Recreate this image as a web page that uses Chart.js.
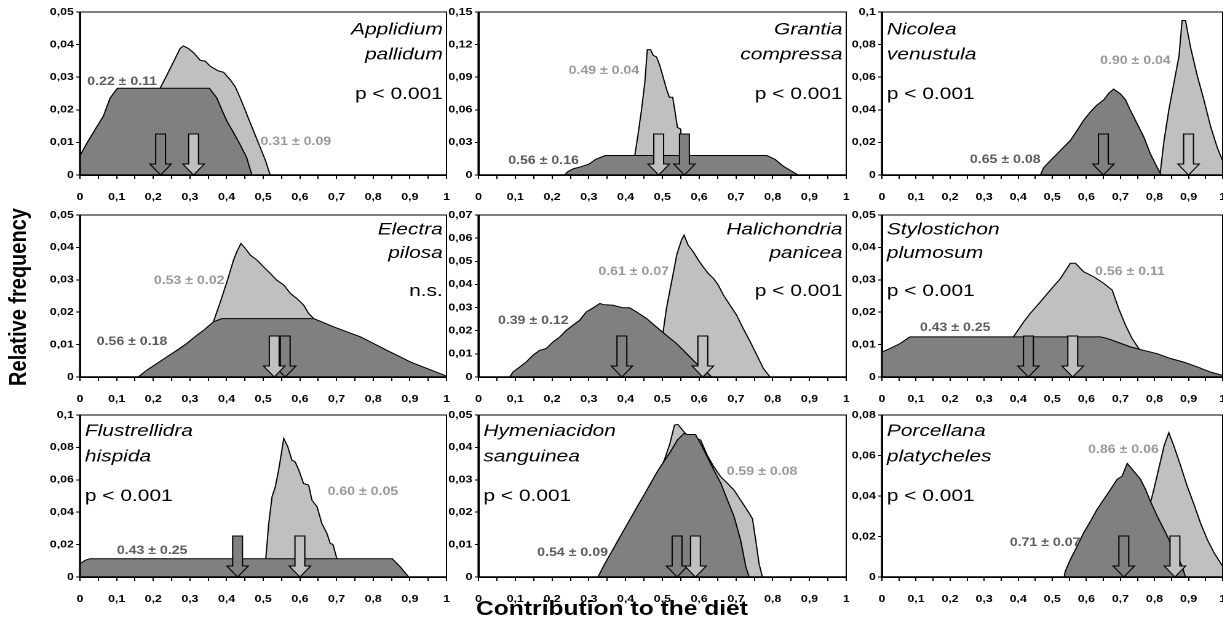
<!DOCTYPE html>
<html>
<head>
<meta charset="utf-8">
<script src="https://cdn.jsdelivr.net/npm/chart.js@4.4.1/dist/chart.umd.min.js"></script>
<style>
  html, body { margin: 0; padding: 0; background: #fff; overflow: hidden; width: 1223px; height: 641px; }
  /* the whole figure is laid out narrow and stretched sideways */
  #figure { position: absolute; left: 0; top: 0; width: 994px; height: 641px;
            transform: scaleX(1.23); transform-origin: 0 0;
            font-family: "Liberation Sans", Arial, sans-serif; }
  #figure canvas { position: absolute; }
  .axis-title { position: absolute; font-weight: bold; font-size: 20px; white-space: nowrap;
                color: #000; transform: translate(-50%, -50%); }
  #ytitle { left: 14.6px; top: 297px; transform: translate(-50%, -50%) rotate(-90deg); }
  #xtitle { left: 497.6px; top: 608px; }
</style>
</head>
<body>
<div id="figure">
  <div class="axis-title" id="ytitle">Relative frequency</div>
  <div class="axis-title" id="xtitle">Contribution to the diet</div>
</div>
<script>
// ---- data -------------------------------------------------------------
const species = [
  ['Applidium', 'pallidum'], ['Grantia', 'compressa'], ['Nicolea', 'venustula'],
  ['Electra', 'pilosa'], ['Halichondria', 'panicea'], ['Stylostichon', 'plumosum'],
  ['Flustrellidra', 'hispida'], ['Hymeniacidon', 'sanguinea'], ['Porcellana', 'platycheles']
];
const pTexts = ['p < 0.001', 'p < 0.001', 'p < 0.001', 'n.s.', 'p < 0.001',
                'p < 0.001', 'p < 0.001', 'p < 0.001', 'p < 0.001'];

const darkMeans  = [0.22, 0.56, 0.65, 0.56, 0.39, 0.43, 0.43, 0.54, 0.71];
const darkSDs    = [0.11, 0.16, 0.08, 0.18, 0.12, 0.25, 0.25, 0.09, 0.07];
const lightMeans = [0.31, 0.49, 0.90, 0.53, 0.61, 0.56, 0.60, 0.59, 0.86];
const lightSDs   = [0.09, 0.04, 0.04, 0.02, 0.07, 0.11, 0.05, 0.08, 0.06];

const xTickValues = [0, 0.05, 0.1, 0.15, 0.2, 0.25, 0.3, 0.35, 0.4, 0.45, 0.5,
                     0.55, 0.6, 0.65, 0.7, 0.75, 0.8, 0.85, 0.9, 0.95, 1];
const yTickValues = [
  [0, 0.01, 0.02, 0.03, 0.04, 0.05],
  [0, 0.03, 0.06, 0.09, 0.12, 0.15],
  [0, 0.02, 0.04, 0.06, 0.08, 0.1],
  [0, 0.01, 0.02, 0.03, 0.04, 0.05],
  [0, 0.01, 0.02, 0.03, 0.04, 0.05, 0.06, 0.07],
  [0, 0.01, 0.02, 0.03, 0.04, 0.05],
  [0, 0.02, 0.04, 0.06, 0.08, 0.1],
  [0, 0.01, 0.02, 0.03, 0.04, 0.05],
  [0, 0.02, 0.04, 0.06, 0.08]
];

// frequency distributions as [contribution, relative frequency]
const pallidumDark = [[0,0.0059],[0.02,0.0100],[0.046,0.0148],[0.064,0.0181],[0.082,0.0236],[0.102,0.0266],
  [0.353,0.0266],[0.373,0.0237],[0.387,0.0200],[0.401,0.0165],[0.419,0.0130],[0.437,0.0093],[0.455,0.0053],[0.469,0]];
const pallidumLight = [[0.08,0],[0.15,0.012],[0.219,0.0267],[0.237,0.0306],[0.255,0.0347],[0.273,0.0388],[0.282,0.0396],
  [0.296,0.0388],[0.310,0.0375],[0.328,0.0352],[0.342,0.0349],[0.355,0.0334],[0.378,0.0319],[0.392,0.0315],[0.410,0.0292],
  [0.424,0.0270],[0.437,0.0237],[0.455,0.0187],[0.474,0.0134],[0.492,0.0084],[0.506,0.0045],[0.519,0]];

const compressaDark = [[0.234,0],[0.243,0.0031],[0.259,0.0059],[0.277,0.0074],[0.300,0.0099],[0.319,0.0145],[0.342,0.0176],
  [0.346,0.0179],[0.784,0.0179],[0.806,0.0145],[0.828,0.0083],[0.851,0.0037],[0.869,0]];
const compressaLight = [[0.40,0],[0.425,0.0179],[0.434,0.0377],[0.443,0.0593],[0.452,0.0840],[0.459,0.1154],[0.468,0.1154],
  [0.475,0.1102],[0.484,0.1086],[0.493,0.1009],[0.502,0.0901],[0.511,0.0793],[0.519,0.0716],[0.528,0.0716],[0.534,0.0593],
  [0.541,0.0438],[0.550,0.0423],[0.553,0.0179],[0.58,0]];

const venustulaDark = [[0.465,0],[0.475,0.0046],[0.494,0.0087],[0.514,0.0129],[0.533,0.0170],[0.553,0.0212],[0.573,0.0274],
  [0.592,0.0336],[0.612,0.0388],[0.631,0.0429],[0.651,0.0461],[0.666,0.0502],[0.680,0.0527],[0.700,0.0498],[0.715,0.0461],
  [0.729,0.0398],[0.749,0.0315],[0.769,0.0232],[0.788,0.0129],[0.808,0.0046],[0.820,0]];
const venustulaLight = [[0.816,0],[0.828,0.0212],[0.842,0.0398],[0.857,0.0564],[0.872,0.0730],[0.881,0.0948],[0.891,0.0948],
  [0.906,0.0782],[0.926,0.0606],[0.945,0.0461],[0.965,0.0295],[0.984,0.0170],[1,0.0087]];

const pilosaDark = [[0.159,0],[0.182,0.0021],[0.209,0.0041],[0.237,0.0062],[0.264,0.0082],[0.291,0.0103],[0.319,0.0129],
  [0.337,0.0144],[0.364,0.0170],[0.387,0.0180],[0.638,0.0180],[0.656,0.0172],[0.692,0.0155],[0.729,0.0139],[0.765,0.0124],
  [0.802,0.0103],[0.838,0.0082],[0.874,0.0062],[0.902,0.0046],[0.95,0.0025],[1,0.0003]];
const pilosaLight = [[0.31,0],[0.364,0.0170],[0.383,0.0232],[0.401,0.0294],[0.419,0.0361],[0.428,0.0387],[0.439,0.0412],
  [0.451,0.0397],[0.465,0.0376],[0.483,0.0361],[0.501,0.0340],[0.519,0.0320],[0.537,0.0299],[0.556,0.0284],[0.574,0.0258],
  [0.592,0.0242],[0.610,0.0222],[0.624,0.0196],[0.638,0.0180],[0.70,0]];

const paniceaDark = [[0.085,0],[0.094,0.0022],[0.112,0.0043],[0.130,0.0065],[0.148,0.0094],[0.166,0.0115],[0.184,0.0123],
  [0.203,0.0152],[0.221,0.0173],[0.239,0.0202],[0.257,0.0224],[0.275,0.0245],[0.293,0.0281],[0.312,0.0299],[0.330,0.0318],
  [0.339,0.0313],[0.366,0.0310],[0.393,0.0299],[0.411,0.0299],[0.430,0.0281],[0.457,0.0253],[0.484,0.0216],[0.511,0.0180],
  [0.539,0.0144],[0.566,0.0101],[0.584,0.0072],[0.602,0.0043],[0.620,0.0022],[0.634,0]];
const paniceaLight = [[0.47,0],[0.502,0.0195],[0.511,0.0296],[0.525,0.0411],[0.539,0.0527],[0.552,0.0592],[0.559,0.0613],
  [0.570,0.0570],[0.584,0.0541],[0.598,0.0505],[0.611,0.0476],[0.625,0.0447],[0.639,0.0426],[0.652,0.0397],[0.666,0.0354],
  [0.684,0.0310],[0.702,0.0267],[0.720,0.0209],[0.739,0.0152],[0.757,0.0094],[0.775,0.0036],[0.793,0]];

const plumosumDark = [[0,0.0077],[0.024,0.0088],[0.053,0.0103],[0.082,0.0124],[0.641,0.0124],[0.661,0.0119],[0.690,0.0108],
  [0.729,0.0093],[0.769,0.0082],[0.808,0.0072],[0.847,0.0057],[0.886,0.0046],[0.926,0.0031],[0.965,0.0015],[1,0.0005]];
const plumosumLight = [[0.33,0],[0.386,0.0124],[0.416,0.0170],[0.435,0.0196],[0.465,0.0232],[0.494,0.0268],[0.524,0.0304],
  [0.553,0.0351],[0.568,0.0351],[0.592,0.0325],[0.622,0.0309],[0.651,0.0289],[0.676,0.0268],[0.695,0.0211],[0.715,0.0160],
  [0.734,0.0119],[0.754,0.0088],[0.80,0]];

const hispidaDark = [[0,0.0082],[0.014,0.0103],[0.027,0.0113],[0.852,0.0113],[0.874,0.0062],[0.897,0]];
const hispidaLight = [[0.49,0],[0.507,0.0113],[0.515,0.0330],[0.524,0.0495],[0.533,0.0557],[0.542,0.0660],[0.548,0.0742],
  [0.556,0.0856],[0.567,0.0804],[0.578,0.0722],[0.587,0.0711],[0.597,0.0660],[0.610,0.0577],[0.624,0.0567],[0.633,0.0474],
  [0.647,0.0433],[0.660,0.0330],[0.674,0.0268],[0.683,0.0206],[0.690,0.0202],[0.701,0.0113],[0.72,0]];

const sanguineaDark = [[0.325,0],[0.341,0.0036],[0.359,0.0072],[0.377,0.0108],[0.395,0.0144],[0.413,0.0180],[0.431,0.0216],
  [0.450,0.0253],[0.468,0.0289],[0.486,0.0325],[0.504,0.0356],[0.522,0.0387],[0.541,0.0423],[0.559,0.0443],[0.568,0.0440],
  [0.590,0.0440],[0.604,0.0412],[0.622,0.0371],[0.640,0.0330],[0.659,0.0289],[0.677,0.0237],[0.695,0.0186],[0.713,0.0113],
  [0.727,0.0031],[0.736,0]];
const sanguineaLight = [[0.34,0],[0.40,0.012],[0.48,0.030],[0.505,0.0360],[0.520,0.0410],[0.533,0.0469],[0.542,0.0471],
  [0.551,0.0459],[0.559,0.0448],[0.568,0.0436],[0.604,0.0423],[0.622,0.0376],[0.640,0.0340],[0.659,0.0309],[0.677,0.0289],
  [0.695,0.0268],[0.713,0.0237],[0.731,0.0206],[0.745,0.0180],[0.754,0.0113],[0.763,0.0041],[0.772,0]];

const platychelesDark = [[0.535,0],[0.538,0.0028],[0.553,0.0086],[0.573,0.0152],[0.592,0.0218],[0.612,0.0275],[0.631,0.0333],
  [0.651,0.0383],[0.671,0.0432],[0.690,0.0482],[0.705,0.0498],[0.720,0.0561],[0.739,0.0523],[0.759,0.0482],[0.774,0.0432],
  [0.788,0.0374],[0.808,0.0300],[0.828,0.0234],[0.847,0.0168],[0.867,0.0102],[0.881,0.0053],[0.891,0]];
const platychelesLight = [[0.70,0],[0.75,0.018],[0.788,0.0366],[0.798,0.0432],[0.813,0.0539],[0.828,0.0647],[0.842,0.0713],
  [0.857,0.0647],[0.877,0.0548],[0.896,0.0449],[0.916,0.0358],[0.935,0.0267],[0.955,0.0185],[0.975,0.0119],[1,0.0053]];

const darkSeries  = [pallidumDark, compressaDark, venustulaDark, pilosaDark, paniceaDark,
                     plumosumDark, hispidaDark, sanguineaDark, platychelesDark];
const lightSeries = [pallidumLight, compressaLight, venustulaLight, pilosaLight, paniceaLight,
                     plumosumLight, hispidaLight, sanguineaLight, platychelesLight];

// ---- layout -----------------------------------------------------------
const cols = [{ left: 65, width: 298 }, { left: 389, width: 299 }, { left: 717, width: 277 }];
const rows = [{ top: 12, height: 163 }, { top: 215, height: 162 }, { top: 415, height: 162 }];
const Y_AXIS = 36, X_AXIS = 34, PAD_TOP = 8, PAD_RIGHT = 6;

// where the mean +- sd labels sit, as fractions of the plot area
const labelSpots = [
  { dark: [0.115, 0.429], light: [0.589, 0.796] },
  { dark: [0.177, 0.914], light: [0.341, 0.362] },
  { dark: [0.362, 0.908], light: [0.744, 0.301] },
  { dark: [0.142, 0.782], light: [0.298, 0.407] },
  { dark: [0.149, 0.654], light: [0.422, 0.350] },
  { dark: [0.215, 0.698], light: [0.728, 0.350] },
  { dark: [0.197, 0.838], light: [0.772, 0.475] },
  { dark: [0.256, 0.852], light: [0.771, 0.352] },
  { dark: [0.479, 0.788], light: [0.709, 0.216] }
];
const nameAlign = ['right', 'right', 'left', 'right', 'right', 'left', 'left', 'left', 'left'];
const nameBaselines = [[22.5, 47.5, 87], [19.5, 43, 81], [21, 46.5, 86]];

const FONT = '"Liberation Sans", Arial, sans-serif';
const DARK_FILL = '#808080', LIGHT_FILL = '#c0c0c0';
const DARK_TEXT = '#5c5c5c', LIGHT_TEXT = '#999999';

function decimalComma(v) {
  return String(parseFloat(v.toFixed(3))).replace('.', ',');
}

function drawArrow(ctx, cx, base, fill) {
  const shaft = 4, head = 8.7, headH = 11, len = 41;
  ctx.beginPath();
  ctx.moveTo(cx - shaft, base - len);
  ctx.lineTo(cx + shaft, base - len);
  ctx.lineTo(cx + shaft, base - headH);
  ctx.lineTo(cx + head, base - headH);
  ctx.lineTo(cx, base);
  ctx.lineTo(cx - head, base - headH);
  ctx.lineTo(cx - shaft, base - headH);
  ctx.closePath();
  ctx.fillStyle = fill;
  ctx.fill();
  ctx.strokeStyle = '#000';
  ctx.lineWidth = 1;
  ctx.stroke();
}

// frame, mean arrows and all text inside a panel
const panelDecor = {
  id: 'panelDecor',
  afterDatasetsDraw(chart, args, opts) {
    const i = opts.index;
    const { ctx, chartArea: a, scales: { x } } = chart;
    const w = a.right - a.left, h = a.bottom - a.top;
    ctx.save();

    ctx.strokeStyle = '#000';
    ctx.lineWidth = 1;
    ctx.strokeRect(a.left, a.top, w, h);
    ctx.lineWidth = 1.6;
    ctx.beginPath();
    ctx.moveTo(a.left, a.top);
    ctx.lineTo(a.left, a.bottom);
    ctx.lineTo(a.right, a.bottom);
    ctx.stroke();

    drawArrow(ctx, x.getPixelForValue(darkMeans[i]), a.bottom, DARK_FILL);
    drawArrow(ctx, x.getPixelForValue(lightMeans[i]), a.bottom, LIGHT_FILL);

    ctx.font = 'bold 11.5px ' + FONT;
    ctx.textAlign = 'center';
    ctx.textBaseline = 'middle';
    const spot = labelSpots[i];
    ctx.fillStyle = DARK_TEXT;
    ctx.fillText(darkMeans[i].toFixed(2) + ' \u00b1 ' + darkSDs[i].toFixed(2),
                 a.left + spot.dark[0] * w, a.top + spot.dark[1] * h);
    ctx.fillStyle = LIGHT_TEXT;
    ctx.fillText(lightMeans[i].toFixed(2) + ' \u00b1 ' + lightSDs[i].toFixed(2),
                 a.left + spot.light[0] * w, a.top + spot.light[1] * h);

    const right = nameAlign[i] === 'right';
    const tx = right ? a.right - 3 : a.left + 4;
    const base = nameBaselines[Math.floor(i / 3)];
    ctx.textAlign = right ? 'right' : 'left';
    ctx.textBaseline = 'alphabetic';
    ctx.fillStyle = '#000';
    ctx.font = 'italic 17px ' + FONT;
    ctx.fillText(species[i][0], tx, a.top + base[0]);
    ctx.fillText(species[i][1], tx, a.top + base[1]);
    ctx.font = '17px ' + FONT;
    ctx.fillText(pTexts[i], tx, a.top + base[2]);
    ctx.restore();
  }
};

const figure = document.getElementById('figure');

for (let i = 0; i < 9; i++) {
  const col = cols[i % 3], row = rows[Math.floor(i / 3)];
  const canvas = document.createElement('canvas');
  canvas.width = col.width + Y_AXIS + PAD_RIGHT;
  canvas.height = row.height + PAD_TOP + X_AXIS;
  canvas.style.left = (col.left - Y_AXIS) + 'px';
  canvas.style.top = (row.top - PAD_TOP) + 'px';
  figure.appendChild(canvas);

  const yTicks = yTickValues[i];
  const tickFont = { family: FONT, size: 10, weight: 'bold' };
  const toPoints = s => s.map(([x, y]) => ({ x, y }));

  new Chart(canvas, {
    type: 'line',
    data: {
      datasets: [
        { data: toPoints(darkSeries[i]), backgroundColor: DARK_FILL, borderColor: '#000',
          borderWidth: 1, fill: 'origin', pointRadius: 0, tension: 0 },
        { data: toPoints(lightSeries[i]), backgroundColor: LIGHT_FILL, borderColor: '#000',
          borderWidth: 1, fill: 'origin', pointRadius: 0, tension: 0 }
      ]
    },
    options: {
      responsive: false,
      animation: false,
      devicePixelRatio: 2,
      layout: { padding: { top: PAD_TOP, right: PAD_RIGHT, left: 0, bottom: 0 } },
      plugins: {
        legend: { display: false },
        tooltip: { enabled: false },
        panelDecor: { index: i }
      },
      scales: {
        x: {
          type: 'linear', min: 0, max: 1,
          afterBuildTicks: axis => { axis.ticks = xTickValues.map(v => ({ value: v })); },
          // fixed axis height; the label gap must not eat into the plot width
          afterFit: axis => { axis.height = X_AXIS; axis.paddingLeft = 0; axis.paddingRight = 0; },
          grid: { drawOnChartArea: false, color: '#000', tickLength: 4, lineWidth: 1 },
          border: { color: '#000', width: 1.5 },
          ticks: {
            autoSkip: false, maxRotation: 0, minRotation: 0, padding: 12,
            color: '#000', font: tickFont,
            callback: v => (Math.round(v * 100) % 10 === 0 ? decimalComma(v) : '')
          }
        },
        y: {
          type: 'linear', min: 0, max: yTicks[yTicks.length - 1],
          afterBuildTicks: axis => { axis.ticks = yTicks.map(v => ({ value: v })); },
          afterFit: axis => { axis.width = Y_AXIS; },
          grid: { drawOnChartArea: false, color: '#000', tickLength: 3, lineWidth: 1 },
          border: { color: '#000', width: 1.5 },
          ticks: { padding: 2, color: '#000', font: tickFont, callback: v => decimalComma(v) }
        }
      }
    },
    plugins: [panelDecor]
  });
}
</script>
</body>
</html>
